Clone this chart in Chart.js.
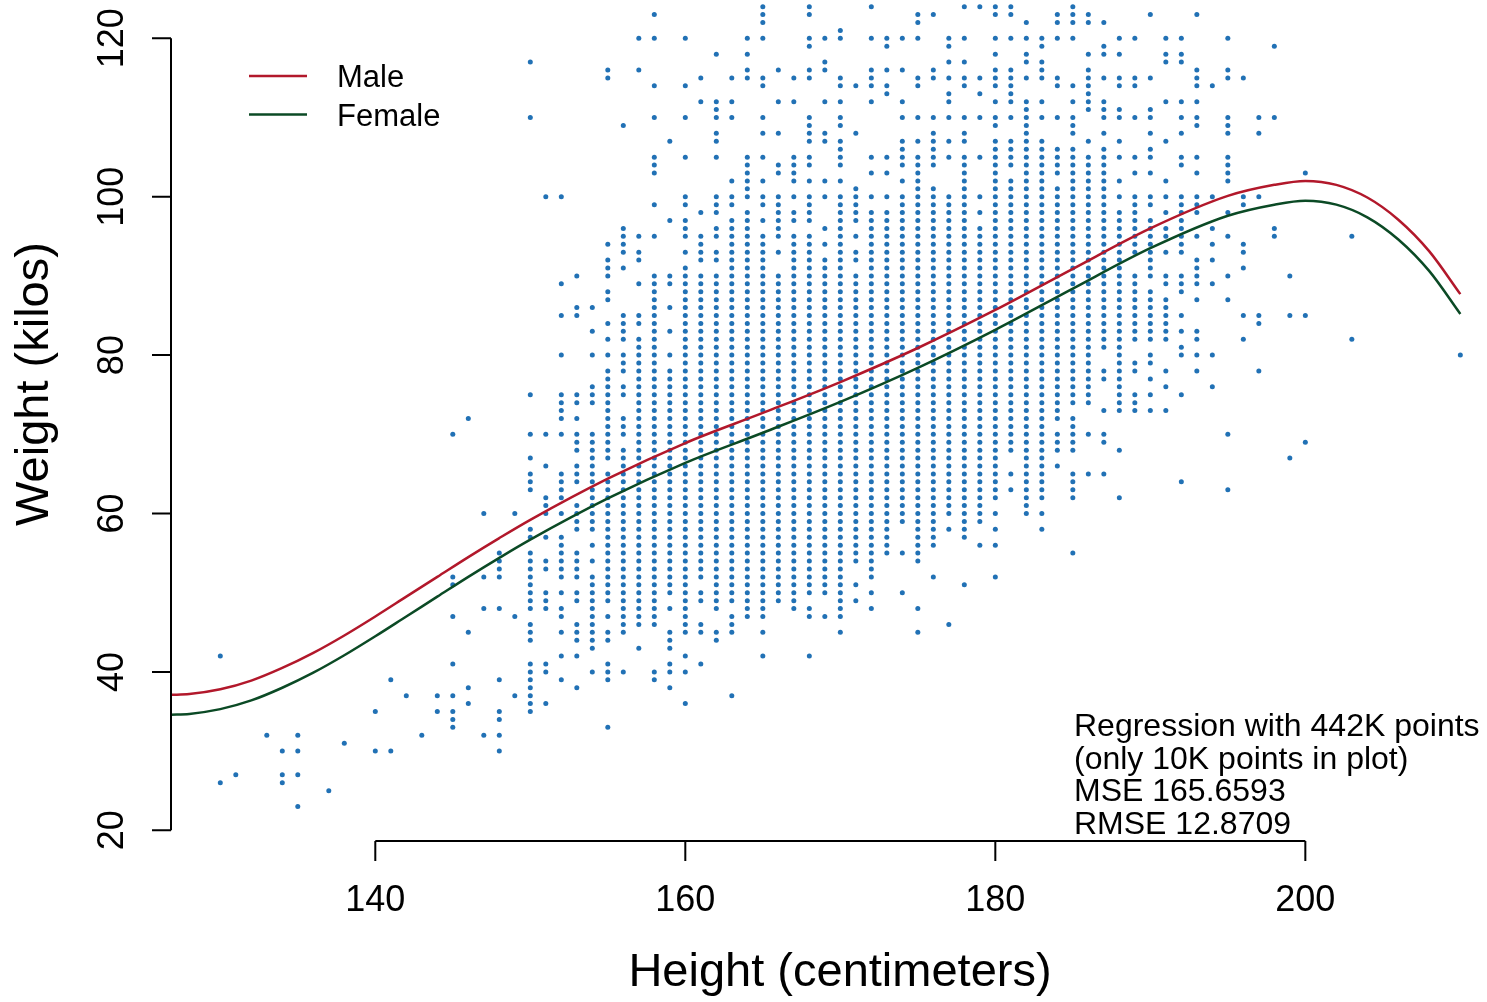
<!DOCTYPE html>
<html>
<head>
<meta charset="utf-8">
<script src="https://cdn.jsdelivr.net/npm/chart.js@4.4.1/dist/chart.umd.min.js"></script>
<style>
body { margin: 0; background: #fff; }
canvas { display: block; }
</style>
</head>
<body>
<canvas id="chart" width="1487" height="1002"></canvas>
<script>
var heightCols = [130,131,133,134,135,137,138,140,141,142,143,144,145,146,147,148,149,
  150,151,152,153,154,155,156,157,158,159,160,161,162,163,164,165,166,167,168,169,
  170,171,172,173,174,175,176,177,178,179,180,181,182,183,184,185,186,187,188,189,
  190,191,192,193,194,195,196,197,198,199,200,203,210];
var weightCols = [
  "42,26", "27", "32", "30,27,26", "32,30,27,23", "25", "31", "35,30", "39,30", "37", "32", "37,35",
  "70,52,51,47,41,37,35-33",
  "72,45,38,36",
  "60,52,48,32",
  "55-52,48,39,35,34,32,30",
  "60,47,37",
  "117,110,75,70,67,65-63,58,57,55-48,46-44,41-35",
  "100,70,66,62-60,57,54,53,50-48,41,40,36",
  "100,89,85,80,75-72,70,65-62,60,57-52,50,48,47,45,42,39",
  "90,86,85,75,74,72,70-68,66-64,61-58,55-52,50,49,46-44,42,38",
  "86,83,80,76-74,70-58,56,54,52-43,40",
  "116,115,94,92-90,88,87,84,82,80,78-67,65-49,47,45,44,41-39,33",
  "109,96-93,91,85-82,80-78,76,75,72-70,68-45,40",
  "120,116,95,93,92,89,85,84,82-46,43",
  "123,120,114,110,105-103,99,95,90-46,40,39",
  "107,97,90,89,86,83,80,78-50,48,45-43,41,40,38",
  "120,114,110,105,100,99,97-95,93,91-45,42,40,36",
  "115,112,98,95-92,90-52,50,49,46,45,41",
  "118,112-110,108,107,105,100-98,96,95,93,92,90-48,45,44",
  "115,112,110,102,100,99,97-49,47-45,37",
  "120,118,116,115,105-100,98-47",
  "124-122,120,115,114,110,108,105,102,100,99,97,95-47,45,42",
  "116,112,108,104,103,100-95,93,90-49",
  "115,112,105-102,100,98,97,95-48",
  "124,123,120,119,116,115,110-107,105,104,102,100-97,95-50,48,47,42",
  "120,117,116,112,108,107,102,100,96,94,92-50,47",
  "121,120,115,114,112,110,109,107-104,102,100-47,45",
  "114,108,101-97,95,93,92,90-54,51,49",
  "124,120,116-114,112,105,103,100,98-52,50,48",
  "120,119,116,114,113,105,103,100,98-55",
  "120,116,112,110,107-104,102,100-59,55,50",
  "123,122,120,115,114,110,107,105-54,48,45",
  "123,116,115,110,108-104,101-56,52",
  "120,119,117,115,113,112,110,107,105,100-60,58,46",
  "124,120,117,115,114,110,108,107,105-57,51",
  "124,115,113,110,105,100,98,96-59,56",
  "124,123,120,118,116-114,112,110,109,107-62,60,58,56,52",
  "124,123,120,116-112,110,107-104,102-68,65,63",
  "122,120,118,117,115,112-60",
  "120,119,117-115,112,110,107-62,60,58",
  "123,122,120,115,114,110,106-103,101-72,70-68,66",
  "124-122,120,114,112,110-108,106-74,72-68,65-62,55",
  "123,122,118,116-111,107,105-74,70,65",
  "122,119,118,115,112-110,108,106-81,78,77,73,70,69,65",
  "120,118,115,114,111,110,107,105,102,100,98-73,68,62",
  "120,115,114,110,105,103,100-93,90-82,79,78,75-73",
  "123,115,111,110,108,106,105,103,100,99,97-90,88-82,80,79,77,75,73",
  "120,118,117,112,107,102,100,98,96,95,93,90,89,87-82,78,76,73",
  "120,118,117,112,110,108,105,104,100-93,90-88,85,83,81,80,75,64",
  "123,116-114,112,110,109,105,103,100-98,95,92-89,87,83,82,80,78",
  "114,100,96,94,92,89,80,76",
  "120,116,115,110-108,105-102,98,95,90,87,70,63",
  "115,100,99,94,93,91,85,82",
  "110,108,100,85,84,78",
  "119,110,96,95",
  "90,85,67",
  "103,85,69",
  "95,82",
  "80"
];

// fitted curves
var fitHeights = [126.8,128,130,132,134,136,138,140,142,144,146,148,150,155,160,165,170,175,180,185,190,195,198,200,202,204,206,208,210];
var maleFit   = [37.1,37.2,37.8,38.9,40.5,42.4,44.6,47.0,49.5,52.0,54.5,56.9,59.2,64.4,68.9,72.7,76.6,80.9,85.7,90.9,96.0,100.1,101.5,102.0,101.5,99.9,97.1,93.1,87.7];
var femaleFit = [34.6,34.7,35.3,36.4,38.0,39.9,42.1,44.5,47.0,49.5,52.0,54.4,56.7,61.9,66.4,70.2,74.1,78.4,83.2,88.4,93.5,97.6,99.0,99.5,99.0,97.4,94.6,90.6,85.2];

var xTicks = [140,160,180,200];
var yTicks = [20,40,60,80,100,120];
var legendLabels = ["Male","Female"];
var noteLines = ["Regression with 442K points","(only 10K points in plot)","MSE 165.6593","RMSE 12.8709"];

var FONT = '"Liberation Sans", Arial, Helvetica, sans-serif';
var maleColor = "#b2182b";
var femaleColor = "#0b4a25";
var dotColor = "#2171b5";

function expand(spec) {
    var out = [];
    spec.split(",").forEach(function(part) {
        var ends = part.split("-").map(Number);
        if (ends.length == 1) out.push(ends[0]);
        else for (var w = ends[0]; w >= ends[1]; w--) out.push(w);
    });
    return out;
}

var points = [];
for (var i = 0; i < heightCols.length; i++) {
    expand(weightCols[i]).forEach(function(w) {
        points.push({x: heightCols[i], y: w});
    });
}

function pairs(xs, ys) {
    return xs.map(function(x, i) { return {x: x, y: ys[i]}; });
}

// R style axes, labels, legend and note
var rAxes = {
    id: "rAxes",
    afterDraw: function(chart) {
        var ctx = chart.ctx;
        var xs = chart.scales.x, ys = chart.scales.y;
        var left = chart.chartArea.left, bottom = chart.chartArea.bottom;
        ctx.save();
        ctx.strokeStyle = "#000";
        ctx.fillStyle = "#000";
        ctx.lineWidth = 2;

        ctx.beginPath();
        ctx.moveTo(left, ys.getPixelForValue(yTicks[0]));
        ctx.lineTo(left, ys.getPixelForValue(yTicks[yTicks.length-1]));
        yTicks.forEach(function(v) {
            var p = ys.getPixelForValue(v);
            ctx.moveTo(left, p);
            ctx.lineTo(left - 19, p);
        });
        ctx.moveTo(xs.getPixelForValue(xTicks[0]), bottom);
        ctx.lineTo(xs.getPixelForValue(xTicks[xTicks.length-1]), bottom);
        xTicks.forEach(function(v) {
            var p = xs.getPixelForValue(v);
            ctx.moveTo(p, bottom);
            ctx.lineTo(p, bottom + 20);
        });
        ctx.stroke();

        ctx.font = "36px " + FONT;
        ctx.textAlign = "center";
        ctx.textBaseline = "alphabetic";
        xTicks.forEach(function(v) {
            ctx.fillText(String(v), xs.getPixelForValue(v), 911);
        });
        yTicks.forEach(function(v) {
            ctx.save();
            ctx.translate(123, ys.getPixelForValue(v));
            ctx.rotate(-Math.PI/2);
            ctx.fillText(String(v), 0, 0);
            ctx.restore();
        });

        ctx.font = "47px " + FONT;
        ctx.fillText("Height (centimeters)", 840, 986);
        ctx.save();
        ctx.translate(48, 384);
        ctx.rotate(-Math.PI/2);
        ctx.fillText("Weight (kilos)", 0, 0);
        ctx.restore();

        // legend
        var legendColors = [maleColor, femaleColor];
        var legendY = [76, 114.5];
        ctx.lineWidth = 2.5;
        ctx.font = "31px " + FONT;
        ctx.textAlign = "left";
        legendLabels.forEach(function(lab, k) {
            ctx.strokeStyle = legendColors[k];
            ctx.beginPath();
            ctx.moveTo(249, legendY[k]);
            ctx.lineTo(307, legendY[k]);
            ctx.stroke();
            ctx.fillText(lab, 337, legendY[k] + 11);
        });

        ctx.font = "32px " + FONT;
        noteLines.forEach(function(t, k) {
            ctx.fillText(t, 1074, 736 + k * 32.5);
        });
        ctx.restore();
    }
};

var chart = new Chart(document.getElementById("chart"), {
    type: "scatter",
    data: {
        datasets: [
            {
                type: "line",
                label: "Male",
                data: pairs(fitHeights, maleFit),
                borderColor: maleColor,
                borderWidth: 2.5,
                pointRadius: 0,
                cubicInterpolationMode: "monotone",
                fill: false,
                order: 0
            },
            {
                type: "line",
                label: "Female",
                data: pairs(fitHeights, femaleFit),
                borderColor: femaleColor,
                borderWidth: 2.5,
                pointRadius: 0,
                cubicInterpolationMode: "monotone",
                fill: false,
                order: 0
            },
            {
                label: "sample",
                data: points,
                backgroundColor: dotColor,
                borderWidth: 0,
                pointRadius: 2.5,
                order: 1
            }
        ]
    },
    options: {
        responsive: false,
        animation: false,
        events: [],
        layout: { autoPadding: false, padding: { left: 171, right: 0, top: 0, bottom: 161 } },
        scales: {
            x: { type: "linear", min: 126.82, max: 211.72, display: false },
            y: { type: "linear", min: 18.65, max: 124.84, display: false }
        },
        plugins: {
            legend: { display: false },
            tooltip: { enabled: false }
        }
    },
    plugins: [rAxes]
});
</script>
</body>
</html>
